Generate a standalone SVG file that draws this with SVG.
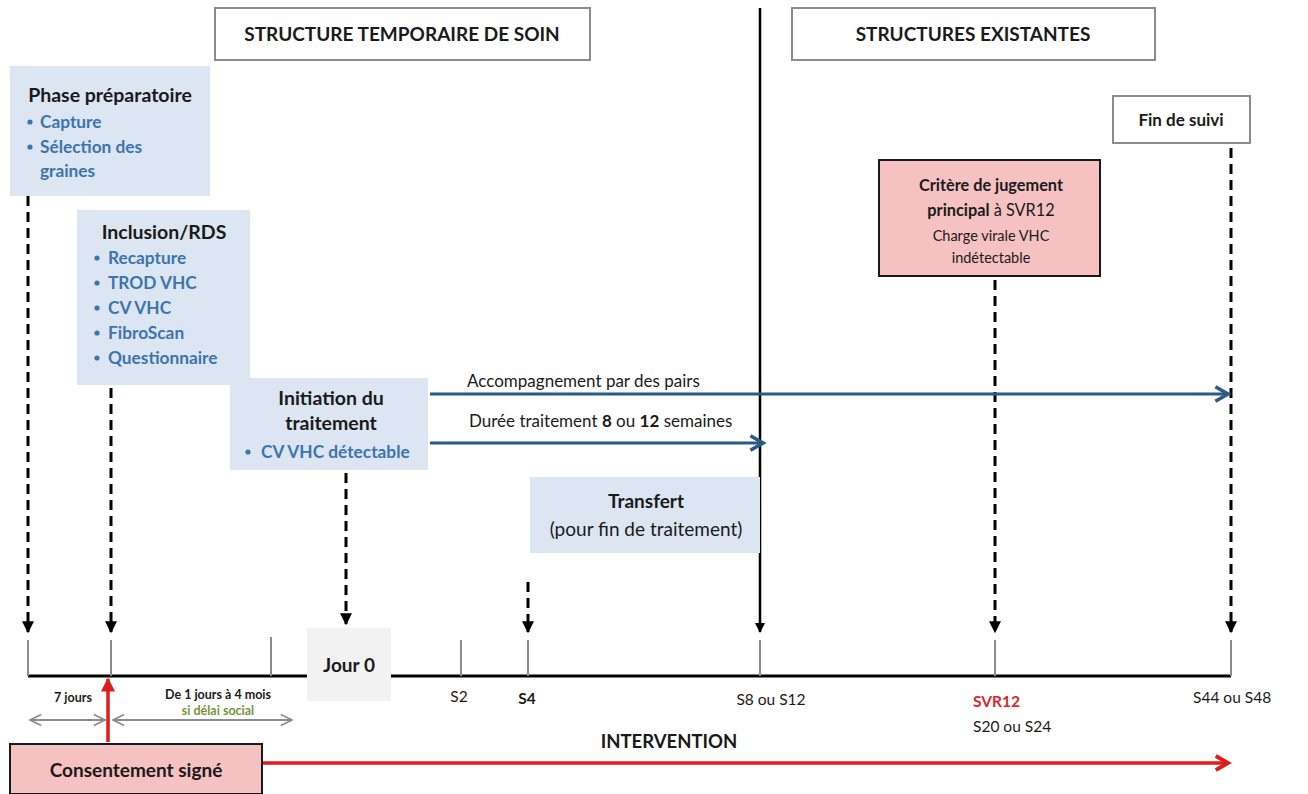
<svg xmlns="http://www.w3.org/2000/svg" width="1308" height="794" viewBox="0 0 1308 794">
<defs>
<style>
text{font-family:Lato,"Open Sans","Liberation Sans",sans-serif;fill:#1a1a1a}
.b{font-weight:bold}
.h{font-size:19px;font-weight:bold;text-anchor:middle}
.hd{font-size:19.5px;font-weight:bold;text-anchor:middle}
.bl{font-size:17.3px;font-weight:bold;fill:#3c74ad}
.lab{font-size:17px}
.tl{font-size:15.5px}
.sm{font-size:12.5px;text-anchor:middle}
.blue{fill:#dce6f2}
.dash{stroke:#000;stroke-width:3;stroke-dasharray:10,6;fill:none}
.tick{stroke:#8c8c8c;stroke-width:2}
.grey2{stroke:#8c8c8c;stroke-width:2;fill:none}
.dot{fill:#3c74ad}
</style>
<marker id="ah" viewBox="0 0 10 10" refX="9" refY="5" markerWidth="4" markerHeight="4" orient="auto"><path d="M0,0 L10,5 L0,10 z" fill="#000"/></marker>
<marker id="ab" viewBox="0 0 10 10" refX="8" refY="5" markerWidth="6" markerHeight="6" orient="auto"><path d="M1,1 L8,5 L1,9" fill="none" stroke="#2b5a88" stroke-width="2"/></marker>
<marker id="ar" viewBox="0 0 10 10" refX="8" refY="5" markerWidth="5" markerHeight="5" orient="auto"><path d="M1,1 L8,5 L1,9" fill="none" stroke="#e01b1b" stroke-width="2.2"/></marker>
<marker id="aru" viewBox="0 0 10 10" refX="9" refY="5" markerWidth="4" markerHeight="4" orient="auto"><path d="M0,0 L10,5 L0,10 z" fill="#e01b1b"/></marker>
<marker id="ag" viewBox="0 0 10 10" refX="9" refY="5" markerWidth="7" markerHeight="7" orient="auto-start-reverse"><path d="M1,1 L9,5 L1,9" fill="none" stroke="#8c8c8c" stroke-width="1.2"/></marker>
</defs>
<rect width="1308" height="794" fill="#fff"/>

<g id="connectors">
<line x1="760" y1="8" x2="760" y2="632" stroke="#000" stroke-width="2.5" marker-end="url(#ah)"/>
<line x1="28" y1="676" x2="307" y2="676" stroke="#000" stroke-width="3"/>
<line x1="390" y1="676" x2="1231" y2="676" stroke="#000" stroke-width="3"/>
<line class="tick" x1="28" y1="640" x2="28" y2="676"/>
<line class="tick" x1="111" y1="640" x2="111" y2="676"/>
<line class="tick" x1="271" y1="637" x2="271" y2="676"/>
<line class="tick" x1="461" y1="640" x2="461" y2="676"/>
<line class="tick" x1="528" y1="640" x2="528" y2="676"/>
<line class="tick" x1="760" y1="640" x2="760" y2="676"/>
<line class="tick" x1="995" y1="640" x2="995" y2="676"/>
<line class="tick" x1="1231" y1="640" x2="1231" y2="676"/>
<line class="dash" x1="28" y1="196" x2="28" y2="632" marker-end="url(#ah)"/>
<line class="dash" x1="111" y1="388" x2="111" y2="632" marker-end="url(#ah)"/>
<line class="dash" x1="346" y1="473" x2="346" y2="624" marker-end="url(#ah)"/>
<line class="dash" x1="528" y1="582" x2="528" y2="632" marker-end="url(#ah)"/>
<line class="dash" x1="995" y1="280" x2="995" y2="632" marker-end="url(#ah)"/>
<line class="dash" x1="1231" y1="148" x2="1231" y2="632" marker-end="url(#ah)"/>
<line x1="430" y1="394" x2="1228" y2="394" stroke="#2b5a88" stroke-width="3" marker-end="url(#ab)"/>
<line x1="430" y1="443" x2="763" y2="443" stroke="#2b5a88" stroke-width="3" marker-end="url(#ab)"/>
<line x1="108" y1="742" x2="108" y2="679" stroke="#e01b1b" stroke-width="3.5" marker-end="url(#aru)"/>
<line x1="262" y1="763" x2="1228" y2="763" stroke="#e01b1b" stroke-width="3.5" marker-end="url(#ar)"/>
<line class="grey2" x1="30" y1="720" x2="105" y2="720" marker-start="url(#ag)" marker-end="url(#ag)"/>
<line class="grey2" x1="113" y1="720" x2="292" y2="720" marker-start="url(#ag)" marker-end="url(#ag)"/>
</g>

<g id="title-temp">
<rect x="215" y="8" width="375" height="52" fill="#fff" stroke="#8c8c8c" stroke-width="2"/>
<text class="h" x="402" y="41">STRUCTURE TEMPORAIRE DE SOIN</text>
</g>
<g id="title-exist">
<rect x="792" y="8" width="363" height="52" fill="#fff" stroke="#8c8c8c" stroke-width="2"/>
<text class="h" x="973" y="41">STRUCTURES EXISTANTES</text>
</g>

<g id="phase-prep">
<rect class="blue" x="10" y="66" width="200" height="130"/>
<text class="hd" x="110" y="102">Phase préparatoire</text>
<circle class="dot" cx="30" cy="122" r="2.6"/>
<text class="bl" x="40" y="128">Capture</text>
<circle class="dot" cx="30" cy="147" r="2.6"/>
<text class="bl" x="40" y="153">Sélection des</text>
<text class="bl" x="40" y="177">graines</text>
</g>

<g id="inclusion">
<rect class="blue" x="77" y="210" width="173" height="175"/>
<text class="hd" x="164" y="239">Inclusion/RDS</text>
<circle class="dot" cx="97" cy="258" r="2.6"/>
<text class="bl" x="108" y="264">Recapture</text>
<circle class="dot" cx="97" cy="283" r="2.6"/>
<text class="bl" x="108" y="289">TROD VHC</text>
<circle class="dot" cx="97" cy="308" r="2.6"/>
<text class="bl" x="108" y="314">CV VHC</text>
<circle class="dot" cx="97" cy="333" r="2.6"/>
<text class="bl" x="108" y="339">FibroScan</text>
<circle class="dot" cx="97" cy="358" r="2.6"/>
<text class="bl" x="108" y="364">Questionnaire</text>
</g>

<g id="initiation">
<rect class="blue" x="230" y="378" width="198" height="92"/>
<text class="hd" x="331" y="405">Initiation du</text>
<text class="hd" x="331" y="430">traitement</text>
<circle class="dot" cx="248" cy="452" r="2.6"/>
<text class="bl" x="261" y="458">CV VHC détectable</text>
</g>

<g id="labels-arrows">
<text class="lab" x="467" y="387">Accompagnement par des pairs</text>
<text class="lab" x="469" y="427">Durée traitement <tspan class="b">8</tspan> ou <tspan class="b">12</tspan> semaines</text>
</g>

<g id="transfert">
<rect class="blue" x="530" y="477" width="230" height="76"/>
<text class="b" x="646" y="508" font-size="19" text-anchor="middle">Transfert</text>
<text x="646" y="536" font-size="19" text-anchor="middle">(pour fin de traitement)</text>
</g>

<g id="critere">
<rect x="879" y="160" width="221" height="116" fill="#f6c1c1" stroke="#1a1a1a" stroke-width="2"/>
<text class="b" x="991" y="191" font-size="16.3" text-anchor="middle">Critère de jugement</text>
<text x="991" y="216" font-size="16.3" text-anchor="middle"><tspan class="b">principal</tspan> à SVR12</text>
<text x="991" y="241" font-size="14.5" text-anchor="middle">Charge virale VHC</text>
<text x="991" y="263" font-size="14.5" text-anchor="middle">indétectable</text>
</g>

<g id="fin-suivi">
<rect x="1113" y="96" width="137" height="47" fill="#fff" stroke="#8c8c8c" stroke-width="2"/>
<text class="b" x="1181" y="126" font-size="17" text-anchor="middle">Fin de suivi</text>
</g>

<g id="jour0">
<rect x="307" y="628" width="84" height="73" fill="#f2f2f2"/>
<text class="b" x="349" y="672" font-size="19" text-anchor="middle">Jour 0</text>
</g>

<g id="timeline-labels">
<text class="sm b" x="73" y="702">7 jours</text>
<text class="sm b" x="218" y="699">De 1 jours à 4 mois</text>
<text class="sm b" x="218" y="715" style="fill:#77933c">si délai social</text>
<text class="tl" x="459" y="702" text-anchor="middle">S2</text>
<text class="tl b" x="527" y="704" text-anchor="middle">S4</text>
<text class="tl" x="771" y="705" text-anchor="middle">S8 ou S12</text>
<text class="tl b" x="973" y="707" style="fill:#d9262b">SVR12</text>
<text class="tl" x="973" y="732">S20 ou S24</text>
<text class="tl" x="1193" y="703">S44 ou S48</text>
<text class="b" x="669" y="748" font-size="18.5" text-anchor="middle">INTERVENTION</text>
</g>

<g id="consentement">
<rect x="10" y="744" width="252" height="50" fill="#f6c1c1" stroke="#1a1a1a" stroke-width="2"/>
<text class="b" x="136" y="777" font-size="19" text-anchor="middle">Consentement signé</text>
</g>
</svg>
